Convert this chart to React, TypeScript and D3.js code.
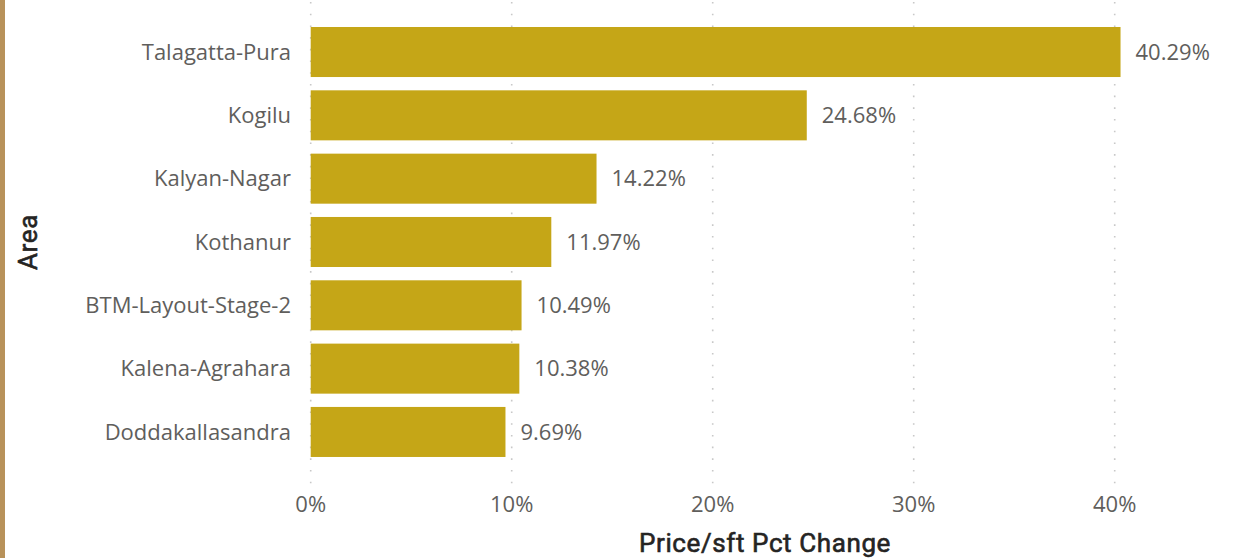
import { useEffect } from "react"
import * as d3 from "d3"

const areas = [
  "Talagatta-Pura",
  "Kogilu",
  "Kalyan-Nagar",
  "Kothanur",
  "BTM-Layout-Stage-2",
  "Kalena-Agrahara",
  "Doddakallasandra",
]
const pctChange = [40.29, 24.68, 14.22, 11.97, 10.49, 10.38, 9.69]
const xTicks = [0, 10, 20, 30, 40]

const W = 1249
const H = 558
const BAR = "#C5A617"
const TEXT = "#605E5C"
const TITLE = "#252423"
const FONT = "'Segoe UI', 'Open Sans', 'Noto Sans', sans-serif"
const TITLE_FONT = "'DIN', 'Roboto', 'Noto Sans', sans-serif"
const LABEL_SIZE = 22

export default function App() {
  useEffect(() => {
    document.body.style.margin = "0"
  }, [])

  const x = d3.scaleLinear().domain([0, 40]).range([310.7, 1114.7])
  const y = d3
    .scaleBand<string>()
    .domain(areas)
    .range([20.67, 463.3])
    .paddingInner(0.21)
    .paddingOuter(0.1)

  // DIN-ish medium weight: regular face with a hairline stroke
  const titleStyle = {
    fontFamily: TITLE_FONT,
    fontWeight: 400,
    fontSize: 26,
    letterSpacing: 0.6,
    fill: TITLE,
    stroke: TITLE,
    strokeWidth: 0.6,
  }

  return (
    <svg width={W} height={H} style={{ display: "block", background: "#fff" }}>
      {/* left accent stripe */}
      <rect x={0} y={0} width={5} height={H} fill="#B8925A" />

      {/* dotted vertical gridlines */}
      <g>
        {xTicks.map((t) => (
          <line
            key={t}
            x1={x(t)}
            x2={x(t)}
            y1={2}
            y2={484}
            stroke="#C8C8C8"
            strokeWidth={1.6}
            strokeDasharray="1.6,10.1"
          />
        ))}
      </g>

      {/* bars */}
      <g>
        {areas.map((a, i) => (
          <rect
            key={a}
            x={x(0)}
            y={y(a)}
            width={x(pctChange[i]) - x(0)}
            height={y.bandwidth()}
            fill={BAR}
          />
        ))}
      </g>

      {/* value labels */}
      <g fontFamily={FONT} fontSize={LABEL_SIZE} fill={TEXT}>
        {areas.map((a, i) => (
          <text
            key={a}
            x={x(pctChange[i]) + 15}
            y={(y(a) ?? 0) + y.bandwidth() / 2}
            dy="0.35em"
          >
            {pctChange[i].toFixed(2)}%
          </text>
        ))}
      </g>

      {/* category labels */}
      <g fontFamily={FONT} fontSize={LABEL_SIZE} fill={TEXT} textAnchor="end">
        {areas.map((a) => (
          <text key={a} x={291} y={(y(a) ?? 0) + y.bandwidth() / 2} dy="0.35em">
            {a}
          </text>
        ))}
      </g>

      {/* x tick labels */}
      <g fontFamily={FONT} fontSize={LABEL_SIZE} fill={TEXT} textAnchor="middle">
        {xTicks.map((t) => (
          <text key={t} x={x(t)} y={504} dy="0.35em">
            {d3.format(".0%")(t / 100)}
          </text>
        ))}
      </g>

      {/* axis titles */}
      <text x={765} y={552} textAnchor="middle" style={titleStyle}>
        Price/sft Pct Change
      </text>
      <text
        transform={`translate(37, 242) rotate(-90)`}
        textAnchor="middle"
        style={titleStyle}
      >
        Area
      </text>
    </svg>
  )
}
